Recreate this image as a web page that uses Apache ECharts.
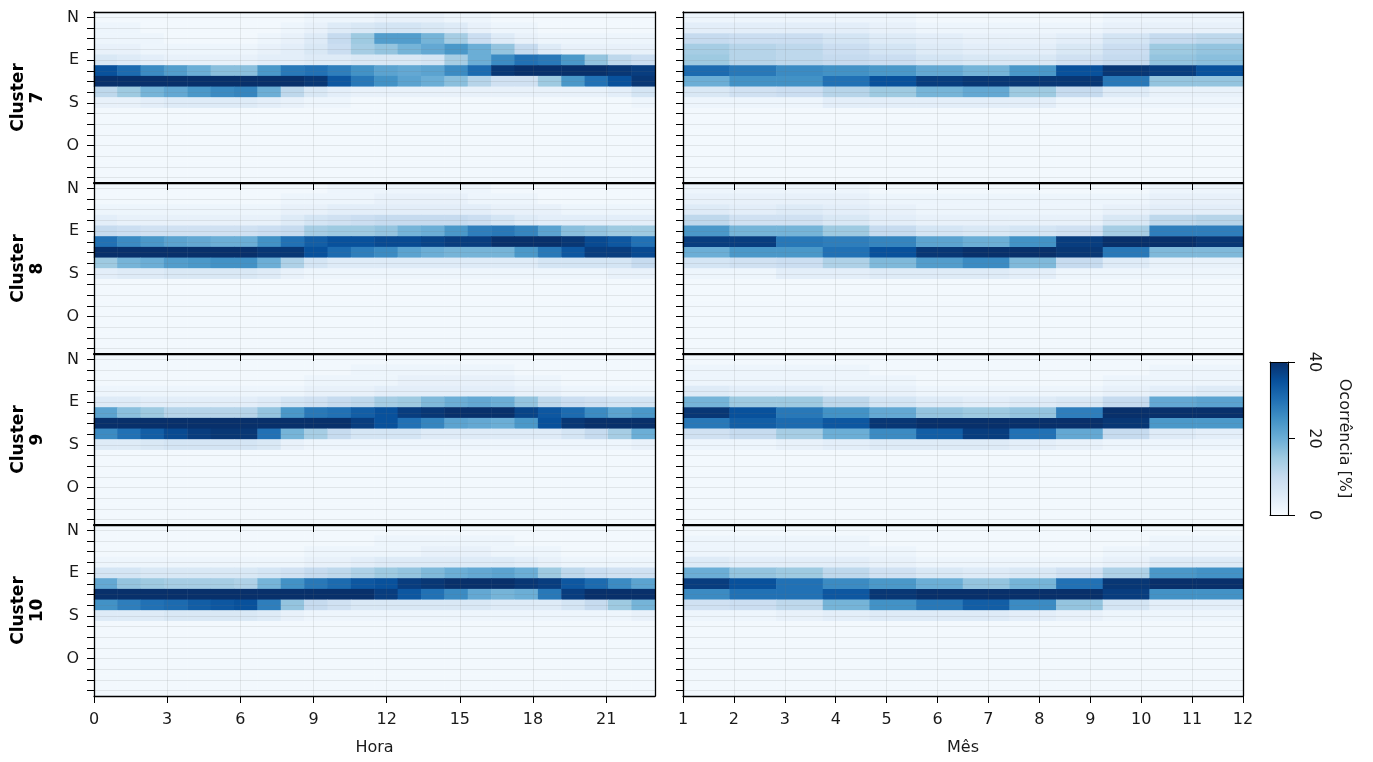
<!DOCTYPE html>
<html><head><meta charset="utf-8">
<script src="https://cdn.jsdelivr.net/npm/echarts@6/dist/echarts.min.js"></script>
<style>html,body{margin:0;padding:0;background:#fff}#chart{width:1373px;height:762px}</style>
</head><body><div id="chart"></div>
<script>
const hours = [0,1,2,3,4,5,6,7,8,9,10,11,12,13,14,15,16,17,18,19,20,21,22,23];
const months = [1,2,3,4,5,6,7,8,9,10,11,12];
const directions = ['N','NNE','NE','ENE','E','ESE','SE','SSE','S','SSO','SO','OSO','O','ONO','NO','NNO'];
const compassLabels = ['N','E','S','O'];
const compassIdx = [0,4,8,12];
const hourTicks = [0,3,6,9,12,15,18,21];
const monthTicks = [1,2,3,4,5,6,7,8,9,10,11,12];
const colorTicks = [0,20,40];
const clusterNames = ['7','8','9','10'];
const blues = ['#f7fbff','#deebf7','#c6dbef','#9ecae1','#6baed6','#4292c6','#2171b5','#08519c','#08306b'];

const bgHora = [1,1,1,1,1,1,1,1,1,1,1,1,1,1,1,1,1,1,1,1,1,1,1,1];
const bgMes  = [1,1,1,1,1,1,1,1,1,1,1,1];

const c7Hora = [
 [1,1,1,1,1,1,1,1,1,2,2,2,3,3,3,2,2,1,1,1,1,1,1,1],
 [2,2,1,1,1,1,1,1,2,3,5,6,7,7,6,5,3,2,2,1,1,1,1,1],
 [2,2,2,1,1,1,1,2,3,5,10,15,23,23,19,14,9,5,3,2,2,2,2,2],
 [3,3,2,2,2,2,2,3,4,6,9,14,16,19,21,24,20,16,10,5,3,3,3,3],
 [6,5,4,3,3,3,3,4,4,5,5,6,6,6,7,14,20,26,30,29,24,16,11,9],
 [35,31,26,23,20,17,17,24,29,30,28,25,22,21,22,26,31,39,40,40,40,40,39,38],
 [40,40,40,40,40,40,40,40,40,39,34,29,25,22,20,17,12,8,8,15,24,30,35,39],
 [11,15,19,21,24,26,27,20,11,6,4,3,3,3,3,3,3,3,3,3,3,3,4,7],
 [3,3,4,5,5,5,5,4,3,2,2,1,1,1,1,1,1,1,1,1,1,1,1,2],
 bgHora, bgHora, bgHora, bgHora, bgHora, bgHora, bgHora
];
const c8Hora = [
 [1,1,1,1,1,1,1,1,1,1,2,2,2,2,2,2,2,1,1,1,1,1,1,1],
 [1,1,1,1,1,1,1,1,2,2,2,2,3,3,3,3,2,2,2,1,1,1,1,1],
 [2,2,2,2,2,2,2,2,3,3,4,4,4,4,4,4,4,3,3,3,2,2,2,2],
 [4,3,3,3,3,3,3,3,5,7,8,9,10,10,10,10,9,7,5,4,4,4,4,4],
 [10,9,8,8,8,8,8,9,10,14,15,15,16,19,20,24,28,29,27,22,17,16,15,15],
 [30,26,24,22,21,20,20,25,30,33,35,35,36,36,37,38,38,40,40,40,39,36,34,30],
 [40,40,40,40,40,40,40,39,39,35,31,28,26,22,20,19,19,19,24,29,34,38,38,36],
 [15,19,20,23,24,25,25,20,13,7,5,5,5,5,5,5,5,5,5,7,7,7,7,10],
 [4,5,5,6,6,6,6,5,3,2,2,2,2,2,2,2,2,2,2,2,2,2,3,3],
 bgHora, bgHora, bgHora, bgHora, bgHora, bgHora, bgHora
];
const c9Hora = [
 [1,1,1,1,1,1,1,1,1,1,1,1,1,1,1,1,1,1,1,1,1,1,1,1],
 [1,1,1,1,1,1,1,1,1,1,1,2,2,2,2,2,2,2,1,1,1,1,1,1],
 [1,1,1,1,1,1,1,1,1,2,2,2,2,3,3,3,3,3,2,2,1,1,1,1],
 [2,2,2,2,2,2,2,2,2,3,3,3,4,4,4,4,4,4,3,3,2,2,2,2],
 [5,5,4,4,4,4,4,5,7,8,10,11,14,15,18,20,21,20,16,11,9,8,7,7],
 [22,17,15,12,12,12,12,16,24,29,30,33,35,38,39,40,40,40,37,34,31,26,22,24],
 [40,40,40,40,40,40,40,40,40,40,40,38,35,30,27,22,21,20,24,35,39,40,40,40],
 [26,30,33,36,38,39,39,30,19,14,10,7,7,7,5,5,5,5,5,5,7,10,14,20],
 [5,5,6,7,7,7,7,6,3,2,2,2,2,2,2,2,2,2,2,2,2,2,2,3],
 bgHora, bgHora, bgHora, bgHora, bgHora, bgHora, bgHora
];
const c10Hora = [
 [1,1,1,1,1,1,1,1,1,1,1,1,1,1,1,1,1,1,1,1,1,1,1,1],
 [1,1,1,1,1,1,1,1,1,1,1,1,2,2,2,2,2,2,1,1,1,1,1,1],
 [1,1,1,1,1,1,1,1,1,2,2,2,2,2,3,3,3,2,2,2,1,1,1,1],
 [2,2,2,2,2,2,2,2,2,3,3,4,5,5,5,5,5,5,4,3,2,2,2,2],
 [7,7,6,6,6,6,6,7,8,10,11,13,15,16,18,20,21,22,20,15,11,9,8,8],
 [21,16,15,14,14,14,13,19,25,29,31,34,35,38,39,40,40,40,39,38,34,31,26,22],
 [40,40,40,40,40,40,40,40,40,40,40,40,38,34,30,26,21,19,20,29,38,40,40,40],
 [25,28,30,31,33,34,35,28,16,10,8,6,6,6,6,6,6,5,5,5,7,10,15,19],
 [5,5,5,6,6,6,6,5,3,2,2,2,2,2,2,2,2,2,2,2,2,2,2,3],
 bgHora, bgHora, bgHora, bgHora, bgHora, bgHora, bgHora
];

const c7Mes = [
 [2,2,2,2,2,1,1,1,1,2,2,2],
 [4,4,4,4,3,2,2,2,2,3,3,3],
 [10,9,9,7,5,4,3,3,4,7,10,11],
 [14,12,11,9,7,5,4,4,6,9,15,16],
 [15,12,11,10,9,7,6,6,8,10,16,17],
 [31,29,26,25,24,21,19,24,35,39,38,35],
 [20,25,25,30,35,38,39,39,39,29,16,16],
 [6,8,9,12,15,19,21,15,10,5,3,3],
 [2,2,2,4,4,4,4,4,2,2,2,2],
 bgMes, bgMes, bgMes, bgMes, bgMes, bgMes, bgMes
];
const c8Mes = [
 [2,2,2,2,1,1,1,1,1,1,2,2],
 [3,3,3,3,2,2,2,2,2,2,3,3],
 [5,4,5,4,3,2,2,2,2,3,4,4],
 [11,8,8,6,4,3,3,3,3,6,11,12],
 [24,19,19,15,10,7,6,7,8,14,28,28],
 [38,38,29,28,27,22,20,25,38,40,40,39],
 [20,24,24,30,35,39,40,40,39,29,18,18],
 [7,8,9,13,18,23,26,18,10,5,3,3],
 [2,2,4,4,5,5,5,4,2,2,2,2],
 bgMes, bgMes, bgMes, bgMes, bgMes, bgMes, bgMes
];
const c9Mes = [
 [1,1,1,1,1,1,1,1,1,1,1,1],
 [2,2,2,2,1,1,1,1,1,1,2,2],
 [2,2,2,2,2,1,1,1,1,2,2,2],
 [5,4,4,3,3,2,2,2,2,3,4,5],
 [19,15,15,11,7,5,4,5,6,10,21,22],
 [39,35,29,25,21,16,15,16,28,40,40,40],
 [29,33,31,34,39,40,40,40,40,39,24,24],
 [8,10,14,20,26,33,38,30,21,10,5,4],
 [2,2,3,4,5,5,5,4,3,2,2,2],
 bgMes, bgMes, bgMes, bgMes, bgMes, bgMes, bgMes
];
const c10Mes = [
 [1,1,1,1,1,1,1,1,1,1,1,1],
 [2,2,2,2,1,1,1,1,1,1,2,2],
 [2,2,2,2,2,1,1,1,1,2,2,2],
 [5,4,4,4,3,2,2,2,2,3,5,5],
 [20,16,15,11,8,6,5,6,8,13,24,25],
 [38,35,30,26,24,20,16,19,30,39,40,40],
 [26,30,30,34,39,40,40,40,40,38,25,25],
 [8,9,11,19,25,29,33,26,16,7,4,4],
 [2,2,3,4,5,5,5,4,3,2,2,2],
 bgMes, bgMes, bgMes, bgMes, bgMes, bgMes, bgMes
];

const panelRows = [c7Hora, c7Mes, c8Hora, c8Mes, c9Hora, c9Mes, c10Hora, c10Mes];

const FONT = 'DejaVu Sans';
const chart = echarts.init(document.getElementById('chart'), null, {renderer: 'canvas'});
const colLeft = [94, 683], colWidth = [561, 560];
const rowTop = [12, 183, 354, 525], rowH = 171;
const gridLineStyle = {color: 'rgba(110,110,110,0.14)', width: 1};
const frameStyle = {color: '#000', width: 1.3};
const labelStyle = {fontFamily: FONT, fontSize: 16, color: '#1a1a1a'};

const grids = [], xAxes = [], yAxes = [], series = [], graphics = [];

panelRows.forEach((rows, i) => {
  const r = Math.floor(i / 2), c = i % 2;
  const isH = c === 0, isBottom = r === 3;
  const cats = isH ? hours : months;
  const ticks = isH ? hourTicks : monthTicks;
  grids.push({left: colLeft[c], top: rowTop[r], width: colWidth[c], height: rowH,
    containLabel: false, outerBoundsMode: 'none'});
  const xi = xAxes.length, yi = yAxes.length;
  xAxes.push({gridIndex: i, type: 'category', data: cats, show: false});
  xAxes.push(Object.assign({gridIndex: i, type: 'value', min: cats[0], max: cats[cats.length - 1], position: 'bottom', z: 5,
    axisLine: {show: true, onZero: false, lineStyle: frameStyle},
    axisTick: {show: true, inside: false, length: 7, customValues: ticks, lineStyle: {color: '#000', width: 1}},
    axisLabel: Object.assign({show: isBottom, customValues: ticks, margin: 16}, labelStyle),
    splitLine: {show: true, lineStyle: gridLineStyle}
  }, isBottom ? {name: isH ? 'Hora' : 'Mês', nameLocation: 'middle', nameGap: 44, nameTextStyle: labelStyle} : {}));
  xAxes.push({gridIndex: i, type: 'value', min: 0, max: 1, position: 'top', z: 5,
    axisLine: {show: true, onZero: false, lineStyle: r > 0 ? {color: '#000', width: 2.2} : frameStyle},
    axisTick: {show: false}, axisLabel: {show: false}, splitLine: {show: false}});
  yAxes.push({gridIndex: i, type: 'category', data: directions, inverse: true, show: false});
  yAxes.push({gridIndex: i, type: 'value', min: -0.5, max: 15.5, inverse: true, position: 'left', z: 5,
    axisLine: {show: true, onZero: false, lineStyle: frameStyle},
    axisTick: {show: true, inside: false, length: 7, customValues: directions.map((d, k) => k), lineStyle: {color: '#000', width: 1}},
    axisLabel: Object.assign({show: isH, customValues: compassIdx, margin: 15,
      formatter: v => compassLabels[compassIdx.indexOf(Math.round(v))] || ''}, labelStyle),
    splitLine: {show: true, lineStyle: gridLineStyle}
  });
  yAxes.push({gridIndex: i, type: 'value', min: 0, max: 1, position: 'right', z: 5,
    axisLine: {show: true, onZero: false, lineStyle: frameStyle},
    axisTick: {show: false}, axisLabel: {show: false}, splitLine: {show: false}});
  const data = [];
  rows.forEach((row, k) => row.forEach((v, j) => data.push([j, k, v])));
  series.push({type: 'heatmap', xAxisIndex: xi, yAxisIndex: yi, data: data, z: 2,
    itemStyle: {borderWidth: 0}, emphasis: {disabled: true}, progressive: 0, animation: false});
  if (isH) {
    graphics.push({type: 'text', x: 28, y: rowTop[r] + rowH / 2, rotation: Math.PI / 2,
      style: {text: 'Cluster\n' + clusterNames[r], align: 'center', verticalAlign: 'middle',
        fontFamily: FONT, fontSize: 17, fontWeight: 'bold', lineHeight: 19, fill: '#000'}});
  }
});

// colorbar frame + ticks
const cbL = 1270, cbT = 362, cbW = 18, cbH = 153;
const cbGrid = grids.length;
grids.push({left: cbL, top: cbT, width: cbW, height: cbH, containLabel: false, outerBoundsMode: 'none'});
const cbLine = {show: true, onZero: false, lineStyle: {color: '#000', width: 1.1}};
xAxes.push({gridIndex: cbGrid, type: 'value', min: 0, max: 1, position: 'bottom', z: 6,
  axisLine: cbLine, axisTick: {show: false}, axisLabel: {show: false}, splitLine: {show: false}});
xAxes.push({gridIndex: cbGrid, type: 'value', min: 0, max: 1, position: 'top', z: 6,
  axisLine: cbLine, axisTick: {show: false}, axisLabel: {show: false}, splitLine: {show: false}});
yAxes.push({gridIndex: cbGrid, type: 'value', min: 0, max: 40, position: 'right', z: 6,
  axisLine: cbLine,
  axisTick: {show: true, inside: false, length: 7, customValues: colorTicks, lineStyle: {color: '#000', width: 1}},
  axisLabel: Object.assign({show: true, customValues: colorTicks, rotate: -90, margin: 18}, labelStyle),
  splitLine: {show: false},
  name: 'Ocorrência [%]', nameLocation: 'middle', nameRotate: -90, nameGap: 48,
  nameTextStyle: labelStyle});
yAxes.push({gridIndex: cbGrid, type: 'value', min: 0, max: 40, position: 'left', z: 6,
  axisLine: cbLine, axisTick: {show: false}, axisLabel: {show: false}, splitLine: {show: false}});

chart.setOption({
  animation: false,
  backgroundColor: '#fff',
  grid: grids,
  xAxis: xAxes,
  yAxis: yAxes,
  visualMap: {type: 'continuous', min: 0, max: 40, calculable: false, seriesIndex: series.map((s, i) => i),
    orient: 'vertical', left: cbL, top: cbT, itemWidth: cbW, itemHeight: cbH, padding: 0,
    inRange: {color: blues}, hoverLink: false},
  graphic: graphics,
  series: series
});
</script></body></html>
